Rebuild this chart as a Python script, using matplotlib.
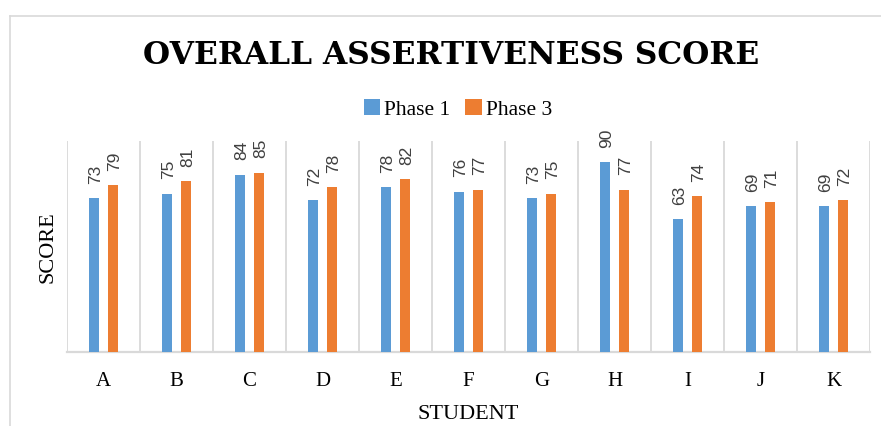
import numpy as np
import matplotlib.pyplot as plt
from matplotlib.lines import Line2D

# data
students = ['A', 'B', 'C', 'D', 'E', 'F', 'G', 'H', 'I', 'J', 'K']
phase1 = [73, 75, 84, 72, 78, 76, 73, 90, 63, 69, 69]
phase3 = [79, 81, 85, 78, 82, 77, 75, 77, 74, 71, 72]
series_names = ['Phase 1', 'Phase 3']

blue = '#5B9BD5'
orange = '#ED7D31'
grid_col = '#D9D9D9'
serif = ['Liberation Serif', 'DejaVu Serif']

fig = plt.figure(figsize=(8.81, 4.27), dpi=100)
ax = fig.add_axes([67 / 881, 74 / 427, 803 / 881, 211 / 427])

x = np.arange(len(students))
w = 0.137
off = 0.13
b1 = ax.bar(x - off, phase1, w, color=blue, label=series_names[0], zorder=3)
b3 = ax.bar(x + off, phase3, w, color=orange, label=series_names[1], zorder=3)

# rotated value labels above bars
for bars, vals in ((b1, phase1), (b3, phase3)):
    for rect, v in zip(bars, vals):
        ax.annotate(str(v), (rect.get_x() + rect.get_width() / 2, v),
                    xytext=(1.5, 11), textcoords='offset points',
                    rotation=90, ha='center', va='bottom',
                    fontsize=12.5, color='#404040', family='Liberation Sans')

ax.set_xlim(-0.5, len(students) - 0.5)
ax.set_ylim(0, 100)
ax.set_yticks([])
ax.set_xticks(x)
ax.set_xticklabels(students, family=serif, fontsize=15)
ax.set_xticks(np.arange(-0.5, len(students)), minor=True)
ax.tick_params(axis='x', which='both', length=0, pad=14)
ax.grid(which='minor', axis='x', color=grid_col, linewidth=1.3, zorder=0)

for s in ('top', 'right', 'left'):
    ax.spines[s].set_visible(False)
ax.spines['bottom'].set_color(grid_col)
ax.spines['bottom'].set_linewidth(1.6)

ax.set_xlabel('STUDENT', family=serif, fontsize=16, labelpad=10)
ax.set_ylabel('SCORE', family=serif, fontsize=16, labelpad=7)

fig.text(451 / 881, 1 - 55 / 427, 'OVERALL ASSERTIVENESS SCORE',
         ha='center', va='center', fontsize=22.5, fontweight='bold',
         family=['DejaVu Serif'])

fig.legend(handles=[b1, b3], loc='center', bbox_to_anchor=(458 / 881, 1 - 110 / 427),
           ncol=2, frameon=False, prop={'family': serif, 'size': 15.5},
           handlelength=0.75, handleheight=0.75, handletextpad=0.2, columnspacing=0.7)

# light outer chart border (top and left visible)
fig.add_artist(Line2D([10 / 881, 1], [1 - 17 / 427] * 2, transform=fig.transFigure,
                      color=grid_col, linewidth=1.2))
fig.add_artist(Line2D([10 / 881] * 2, [0, 1 - 17 / 427], transform=fig.transFigure,
                      color=grid_col, linewidth=1.2))

fig.savefig('out.png', dpi=100)
